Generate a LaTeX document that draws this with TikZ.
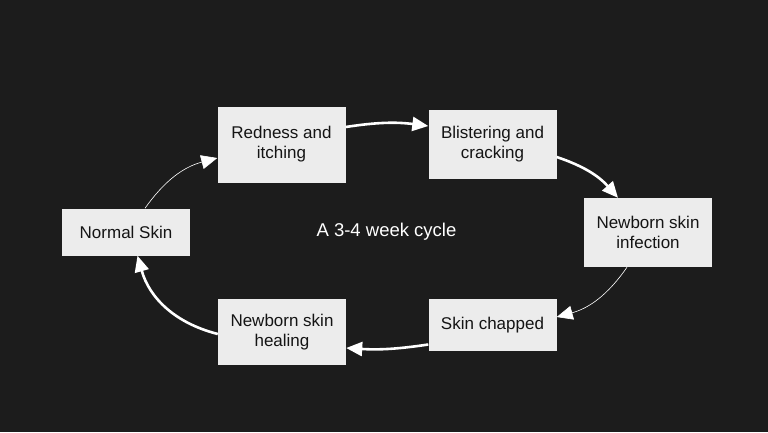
\documentclass[tikz,border=0pt]{standalone}
\usepackage{fontspec}
\setmainfont{Liberation Sans}
\usetikzlibrary{arrows.meta, positioning}
\definecolor{bgdark}{HTML}{1C1C1C}
\definecolor{boxgray}{HTML}{ECECEC}
\definecolor{inkdark}{HTML}{141414}

\begin{document}
\begin{tikzpicture}[x=1pt, y=-1pt,
    stage/.style={rectangle, fill=boxgray, text=inkdark, minimum width=128pt,
      inner sep=0pt, align=center, font=\fontsize{17}{20}\selectfont},
    flow/.style={draw=white, -{Triangle[length=16pt, width=14pt]}},
    heavy/.style={flow, line width=2.6pt},
    light/.style={flow, line width=0.6pt}]
  \fill[bgdark] (0,0) rectangle (768,432);

  % stages of the cycle
  \node[stage, minimum height=47pt] (normal) at (126,232) {Normal Skin};
  \node[stage, minimum height=76pt] (redness) at (281.5,144.5) {Redness and\\itching};
  \node[stage, minimum height=69pt] (blister) at (492.5,144.5) {Blistering and\\cracking};
  \node[stage, minimum height=69pt] (infect) at (648,232.5) {Newborn skin\\infection};
  \node[stage, minimum height=52pt] (chapped) at (492.5,325) {Skin chapped};
  \node[stage, minimum height=66pt] (healing) at (282,332) {Newborn skin\\healing};

  \node[text=white, font=\fontsize{18.5}{22}\selectfont] (cycle) at (386.5,232) {A 3-4 week cycle};

  % connectors
  \draw[light] ([xshift=19pt]normal.north) to[bend left=20] ([yshift=-13.5pt]redness.west);
  \draw[heavy] ([yshift=17.5pt]redness.east) to[bend left=8] ([yshift=18.5pt]blister.west);
  \draw[heavy] ([yshift=-12.5pt]blister.east) to[bend left=15] ([xshift=-30pt]infect.north);
  \draw[light] ([xshift=-21pt]infect.south) to[bend left=20] ([yshift=8pt]chapped.east);
  \draw[heavy] ([yshift=-19.5pt]chapped.west) to[bend left=6] ([yshift=-16pt]healing.east);
  \draw[heavy] ([yshift=-2pt]healing.west) to[bend left=30] ([xshift=11.5pt]normal.south);
\end{tikzpicture}
\end{document}
